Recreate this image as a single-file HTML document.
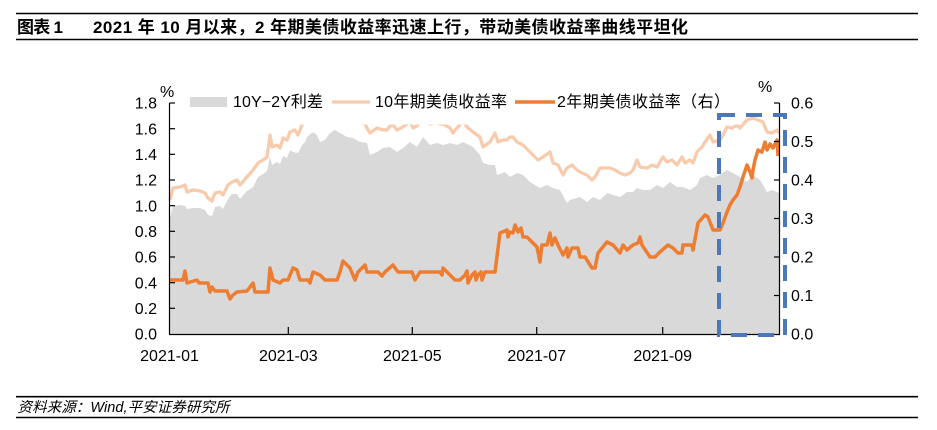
<!DOCTYPE html>
<html>
<head>
<meta charset="utf-8">
<style>
  html,body{margin:0;padding:0;background:#fff;}
  svg{display:block;}
  text{font-family:"Liberation Sans","Noto Sans CJK SC",sans-serif;fill:#000;}
</style>
</head>
<body>
<svg width="937" height="430" viewBox="0 0 937 430" xmlns="http://www.w3.org/2000/svg">
  <rect x="0" y="0" width="937" height="430" fill="#fff"/>

  <!-- Title -->
  <line x1="16" y1="13.5" x2="918" y2="13.5" stroke="#000" stroke-width="1.6"/>
  <text x="17" y="33" font-size="17" font-weight="bold" textLength="46" lengthAdjust="spacing">图表 1</text>
  <text x="93" y="33" font-size="17" font-weight="bold" textLength="595" lengthAdjust="spacing">2021 年 10 月以来，2 年期美债收益率迅速上行，带动美债收益率曲线平坦化</text>
  <line x1="16" y1="39.5" x2="918" y2="39.5" stroke="#000" stroke-width="1.6"/>

  <!-- Grey spread area -->
  <polygon fill="#D9D9D9" points="170,334 170,218 173,206 180,205 185,206 187,209 193,208 200,208 205,210 208,215 212,216 215,207 220,206 223,209 228,199 232,194 237,194 240,199 247,191 253,187 258,177 263,174 267,171 270,157 272,165 277,162 280,164 283,156 287,158 290,150 293,152 298,153 302,145 305,142 307,137 313,132 317,135 320,142 325,140 330,133 335,130 340,133 347,137 353,138 360,142 367,143 370,155 377,152 383,148 390,147 397,152 403,148 410,142 417,147 423,137 430,145 437,143 443,145 450,143 457,145 463,142 473,147 480,155 483,163 490,165 495,165 497,175 500,174 505,172 510,177 517,173 523,175 530,182 540,188 547,185 553,188 560,190 567,203 570,200 580,197 587,202 593,197 600,200 607,193 613,195 620,197 627,192 633,192 637,188 643,190 650,190 657,185 663,188 670,182 677,187 683,187 690,190 697,185 700,178 707,175 713,178 720,175 727,170 733,173 740,177 747,182 753,175 760,180 767,192 772,190 779,193 779,334"/>

  <!-- 10Y line -->
  <polyline fill="none" stroke="#F8CBAD" stroke-width="3.3" stroke-linejoin="round" points="170,200 173,188 180,187 185,185 187,192 193,190 200,191 205,193 208,198 212,201 215,193 220,192 223,195 228,185 232,182 237,180 240,185 247,177 253,170 258,163 263,160 267,157 270,135 272,147 277,145 280,148 283,138 287,140 290,132 295,130 298,135 302,125 305,120 307,117 313,112 317,115 320,122 325,120 330,113 335,110 340,113 347,117 353,118 360,122 365,124 367,128 370,133 377,128 383,130 387,130 390,126 393,125 397,130 403,127 407,124 410,121 413,128 417,126 420,120 423,116 430,124 437,122 440,124 443,124 450,128 453,133 457,128 463,121 467,127 473,132 480,137 483,147 490,142 495,133 498,142 503,140 507,140 510,137 513,137 517,142 523,145 528,150 533,155 538,160 543,157 550,152 553,163 558,165 563,175 567,168 572,165 577,170 582,173 587,175 592,180 595,177 600,168 605,168 610,168 615,170 620,173 625,175 630,173 633,170 637,160 640,167 647,168 652,165 657,167 663,157 667,162 672,160 677,165 682,157 685,163 690,160 693,163 697,152 702,147 705,142 710,135 713,142 720,140 723,135 727,127 732,128 737,125 740,128 747,120 753,118 758,120 763,122 767,132 772,133 777,130 779,133"/>

  <!-- 2Y line -->
  <polyline fill="none" stroke="#ED7D31" stroke-width="3.5" stroke-linejoin="round" points="170,280 183,280 185,271 187,283 197,280 199,283 208,283 210,292 212,287 215,291 227,291 230,299 233,295 237,292 247,291 253,283 255,292 268,292 270,268 273,280 280,283 283,280 288,280 293,268 297,270 300,280 308,280 310,283 313,272 320,275 325,280 337,280 340,272 343,261 350,268 355,280 358,272 365,265 367,272 378,272 382,276 385,272 393,265 398,272 412,272 415,280 420,272 440,272 442,275 443,268 450,275 455,280 460,280 465,275 467,271 468,283 472,275 475,272 476,280 478,275 481,272 482,280 485,272 495,272 500,233 507,230 508,237 510,232 513,233 515,225 518,232 521,228 523,237 527,237 537,247 540,262 542,245 547,245 550,233 552,245 555,238 558,245 563,255 567,248 568,257 572,248 578,248 580,257 585,257 592,268 595,268 598,253 607,242 613,245 620,253 623,245 627,250 633,245 638,243 640,237 642,245 650,257 655,257 660,252 668,245 673,248 678,253 682,253 683,245 692,245 693,250 698,223 705,215 708,217 713,230 720,230 723,223 727,212 730,205 733,200 737,195 740,187 743,177 747,165 750,172 752,178 753,170 755,160 758,150 762,152 765,142 767,150 770,144 773,148 777,140 778,156"/>

  <!-- Axes -->
  <g stroke="#000" stroke-width="1.2" fill="none">
    <line x1="169.5" y1="103" x2="169.5" y2="334.5"/>
    <line x1="779.5" y1="103" x2="779.5" y2="334.5"/>
    <line x1="169" y1="334.5" x2="780" y2="334.5"/>
    <line x1="169.5" y1="103" x2="175" y2="103"/>
    <line x1="169.5" y1="128.7" x2="175" y2="128.7"/>
    <line x1="169.5" y1="154.3" x2="175" y2="154.3"/>
    <line x1="169.5" y1="180" x2="175" y2="180"/>
    <line x1="169.5" y1="205.7" x2="175" y2="205.7"/>
    <line x1="169.5" y1="231.3" x2="175" y2="231.3"/>
    <line x1="169.5" y1="257" x2="175" y2="257"/>
    <line x1="169.5" y1="282.7" x2="175" y2="282.7"/>
    <line x1="169.5" y1="308.3" x2="175" y2="308.3"/>
    <line x1="774" y1="103" x2="779.5" y2="103"/>
    <line x1="774" y1="141.5" x2="779.5" y2="141.5"/>
    <line x1="774" y1="180" x2="779.5" y2="180"/>
    <line x1="774" y1="218.5" x2="779.5" y2="218.5"/>
    <line x1="774" y1="257" x2="779.5" y2="257"/>
    <line x1="774" y1="295.5" x2="779.5" y2="295.5"/>
    <line x1="288.3" y1="327" x2="288.3" y2="334.5"/>
    <line x1="412.3" y1="327" x2="412.3" y2="334.5"/>
    <line x1="536.7" y1="327" x2="536.7" y2="334.5"/>
    <line x1="662.7" y1="327" x2="662.7" y2="334.5"/>
  </g>

  <!-- Left axis labels -->
  <g font-size="16" text-anchor="end">
    <text x="157" y="108.7">1.8</text>
    <text x="157" y="134.4">1.6</text>
    <text x="157" y="160">1.4</text>
    <text x="157" y="185.7">1.2</text>
    <text x="157" y="211.4">1.0</text>
    <text x="157" y="237">0.8</text>
    <text x="157" y="262.7">0.6</text>
    <text x="157" y="288.4">0.4</text>
    <text x="157" y="314">0.2</text>
    <text x="157" y="339.7">0.0</text>
  </g>
  <text x="160" y="97" font-size="16">%</text>

  <!-- Right axis labels -->
  <g font-size="16">
    <text x="791" y="108.7">0.6</text>
    <text x="791" y="147.2">0.5</text>
    <text x="791" y="185.7">0.4</text>
    <text x="791" y="224.2">0.3</text>
    <text x="791" y="262.7">0.2</text>
    <text x="791" y="301.2">0.1</text>
    <text x="791" y="339.7">0.0</text>
  </g>
  <text x="758" y="92" font-size="16">%</text>

  <!-- X labels -->
  <g font-size="16" text-anchor="middle">
    <text x="169.5" y="361">2021-01</text>
    <text x="288.3" y="361">2021-03</text>
    <text x="412.3" y="361">2021-05</text>
    <text x="536.7" y="361">2021-07</text>
    <text x="662.7" y="361">2021-09</text>
  </g>

  <!-- Legend (white box) -->
  <rect x="183" y="84" width="559" height="40.5" fill="#fff"/>
  <rect x="190" y="97" width="37" height="10" fill="#D9D9D9"/>
  <text x="233" y="107" font-size="16" textLength="90" lengthAdjust="spacing">10Y−2Y利差</text>
  <line x1="332" y1="102" x2="370" y2="102" stroke="#F8CBAD" stroke-width="3.3"/>
  <text x="375" y="107" font-size="16" textLength="132" lengthAdjust="spacing">10年期美债收益率</text>
  <line x1="515" y1="102" x2="555" y2="102" stroke="#ED7D31" stroke-width="3.5"/>
  <text x="557" y="107" font-size="16" textLength="173" lengthAdjust="spacing">2年期美债收益率（右）</text>

  <!-- Dashed highlight box -->
  <rect x="719" y="115" width="66" height="220" fill="none" stroke="#4A78B8" stroke-width="4" stroke-dasharray="16 11"/>

  <!-- Footer -->
  <line x1="16" y1="396.7" x2="918" y2="396.7" stroke="#000" stroke-width="1.6"/>
  <text x="17.5" y="412" font-size="14.5" font-style="italic" textLength="212" lengthAdjust="spacing">资料来源：Wind,平安证券研究所</text>
  <line x1="16" y1="417.5" x2="918" y2="417.5" stroke="#000" stroke-width="1.6"/>
</svg>
</body>
</html>
